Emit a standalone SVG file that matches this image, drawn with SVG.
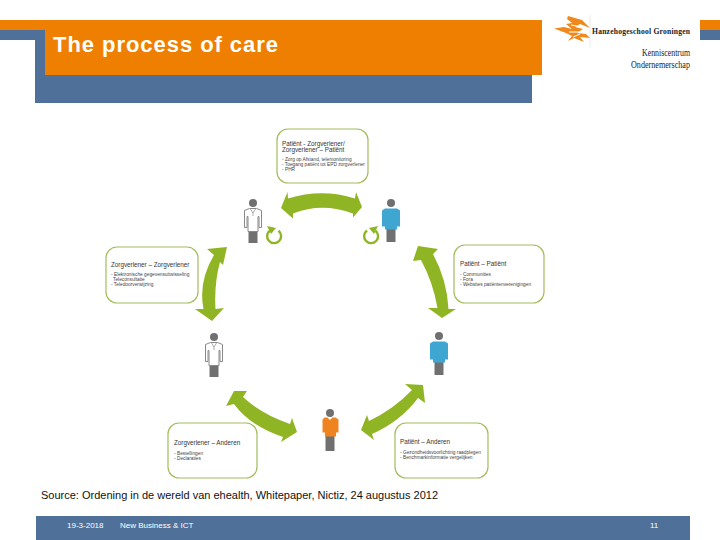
<svg xmlns="http://www.w3.org/2000/svg" width="720" height="540" viewBox="0 0 720 540">
<style>
text{font-family:"Liberation Sans",Arial,sans-serif}
.box{fill:#fff;stroke:#a3bc5c;stroke-width:1.2}
.h{font-size:6.3px;fill:#333}
.b{font-size:4.8px;fill:#444}
.arrow{fill:#8fb524}
.loop{fill:none;stroke:#8fb524;stroke-width:2.4}
.logo{fill:#ee8a1d}
.sf{font-family:"Liberation Serif",serif;fill:#222}
.ft{font-size:8px;fill:#fff}
.skin{fill:#707070}
.leg{fill:#707070}
</style>
<defs>
<g id="doctor">
<path d="M-4.500,27h9v13h-9z" class="leg"/>
<path d="M-3.500,5.500h7l5,2v17h-2.500v-11h-1v15h-10v-15h-1v11h-2.500v-17z" fill="#fff" stroke="#888" stroke-width="1"/>
<path d="M-2.500,6l2.500,4 2.500,-4M0,10v3" fill="none" stroke="#888" stroke-width=".7"/>
<circle r="4" class="skin"/>
</g>
<g id="patient">
<rect x="-4.500" y="24" width="9" height="15" class="leg"/>
<circle r="4" class="skin"/>
<path d="M-6,5.500h12l3,2v16h-3v3h-12v-3h-3v-16z" fill="#3fa6d2"/>
</g>
<g id="patientO">
<rect x="-4.500" y="22" width="9" height="16" class="leg"/>
<circle r="4" class="skin"/>
<path d="M-5.500,4.500h3l2.500,2.500 2.500,-2.500h3l3,2v13h-2.500v4h-11v-4h-2.500v-13z" fill="#ee8320"/>
</g>
<g id="loop">
<path d="M-4,-5.500A7,7 0 1 0 4.500,-5.300" class="loop"/>
</g>
</defs>

<g id="header">
<rect x="0" y="20" width="46" height="10" fill="#ef7f00"/>
<rect x="0" y="30" width="46" height="10" fill="#4f7199"/>
<rect x="35" y="30" width="497" height="73" fill="#4f7199"/>
<rect x="45" y="20" width="497" height="55" fill="#ef7f00"/>
<rect x="700" y="20" width="20" height="10" fill="#ef7f00"/>
<rect x="700" y="30" width="20" height="10" fill="#4f7199"/>
<text x="53" y="52" font-size="22" font-weight="bold" fill="#fff" textLength="225">The process of care</text>
</g>

<g id="logo">
<path d="M590,15V47" stroke="#e5e5e5" stroke-width=".8" fill="none"/>
<path class="logo" d="M568,16L582,20L590,28L580,24L575,27L583,29L577,33L586,34L590,38L580,37L584,42L574,38L568,41L572,36L566,33L554,28.500L564,27L572,29L566,24L572,23L567,19Z"/>
<path d="M571,25L582,27M569,32L582,32M573,37L580,34" stroke="#fff" stroke-width="1" fill="none"/>
<text class="sf" x="592" y="34" font-size="7.600" font-weight="bold" textLength="98">Hanzehogeschool Groningen</text>
<text class="sf" x="690" y="56" font-size="10" text-anchor="end" textLength="48" lengthAdjust="spacingAndGlyphs">Kenniscentrum</text>
<text class="sf" x="690" y="68" font-size="10" text-anchor="end" textLength="59" lengthAdjust="spacingAndGlyphs">Ondernemerschap</text>
</g>

<g id="connectors">
<path class="arrow" d="M281,208L287.500,192L288,198.500Q322,188 355,198.500L356,192L362,207L353,217.500L353,213.500Q322,202 293,213.500L293,218.500Z"/>
<path class="arrow" d="M227,247L207,249L214,255Q198,282 203.500,309L195,309L212,321L224,308L215.500,309Q214,284 220,262L223,265Z"/>
<path class="arrow" d="M418,246L438,249L433,254Q447,280 448.500,309L456,309L442,318L428,308L437.500,308Q433,282 421,260L413,261Z"/>
<path class="arrow" d="M247,391L234,391L226,406L234,404Q250,426 283,437L281,442L297,432L292,418L290,424Q261,414 243,397Z"/>
<path class="arrow" d="M405,384L423,385L425,403L418,398Q401,421 372,434L374,440L361,430L367,415L369,421Q394,409 412,390Z"/>
</g>

<g id="node-patient-zorgverlener">
<rect class="box" x="277" y="129" width="91" height="54" rx="11"/>
<text class="h" x="282" y="146">Patiënt - Zorgverlener/</text>
<text class="h" x="282" y="152">Zorgverlener – Patiënt</text>
<text class="b" x="282" y="161">- Zorg op Afstand, telemonitoring</text>
<text class="b" x="282" y="166">- Toegang patiënt tot EPD zorgverlener</text>
<text class="b" x="282" y="171">- PHR</text>
</g>
<g id="node-zorgverlener-zorgverlener">
<rect class="box" x="106" y="247" width="92" height="56" rx="11"/>
<text class="h" x="111" y="267">Zorgverlener – Zorgverlener</text>
<text class="b" x="111" y="276">- Elektronische gegevensuitwisseling</text>
<text class="b" x="113" y="281">Teleconsultatie</text>
<text class="b" x="111" y="286">- Teledoorverwijzing</text>
</g>
<g id="node-patient-patient">
<rect class="box" x="454" y="245" width="90" height="58" rx="11"/>
<text class="h" x="460" y="266">Patiënt – Patiënt</text>
<text class="b" x="460" y="276">- Communities</text>
<text class="b" x="460" y="281">- Fora</text>
<text class="b" x="460" y="286">- Websites patiëntenverenigingen</text>
</g>
<g id="node-zorgverlener-anderen">
<rect class="box" x="168" y="423" width="89" height="55" rx="11"/>
<text class="h" x="174" y="445">Zorgverlener – Anderen</text>
<text class="b" x="174" y="455">- Bestellingen</text>
<text class="b" x="174" y="460">- Declaraties</text>
</g>
<g id="node-patient-anderen">
<rect class="box" x="395" y="423" width="93" height="55" rx="11"/>
<text class="h" x="400" y="444">Patiënt – Anderen</text>
<text class="b" x="400" y="454">- Gezondheidsvoorlichting raadplegen</text>
<text class="b" x="400" y="459">- Benchmarkinformatie vergelijken</text>
</g>

<g id="people">
<use href="#doctor" x="253" y="203"/>
<use href="#patient" x="391" y="203"/>
<use href="#doctor" x="214" y="337"/>
<use href="#patient" x="439" y="336"/>
<use href="#patientO" x="330" y="413"/>
<use href="#loop" x="274" y="236"/>
<path class="arrow" d="M267,226L276,228L271,234Z"/>
<use href="#loop" x="371" y="236"/>
<path class="arrow" d="M378,226L369,228L374,234Z"/>
</g>

<text id="source" x="41" y="499" font-size="11" fill="#111" textLength="397">Source: Ordening in de wereld van ehealth, Whitepaper, Nictiz, 24 augustus 2012</text>

<g id="footer">
<rect x="36" y="516" width="654" height="24" fill="#4f7199"/>
<text class="ft" x="67" y="528">19-3-2018</text>
<text class="ft" x="120" y="528">New Business &amp; ICT</text>
<text class="ft" x="650" y="528">11</text>
</g>
</svg>
